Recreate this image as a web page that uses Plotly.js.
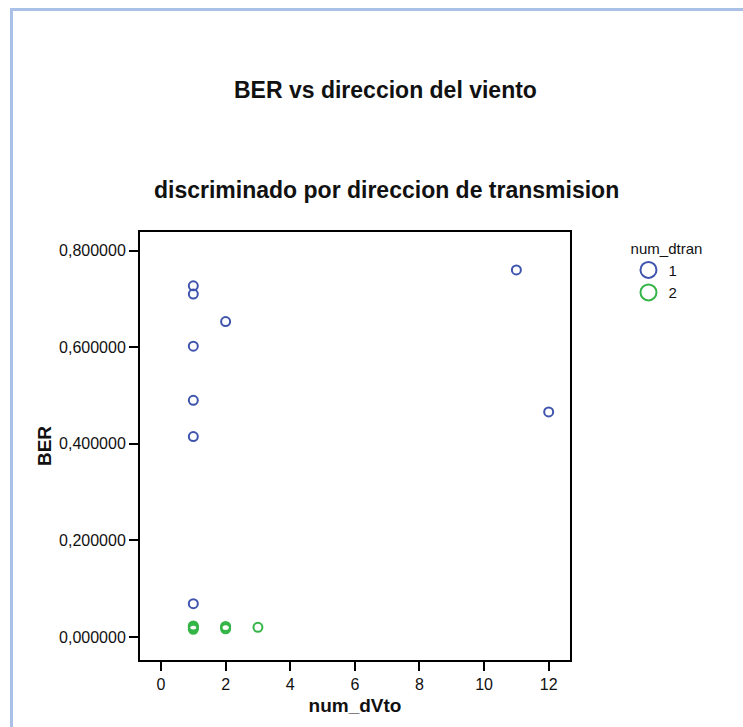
<!DOCTYPE html>
<html>
<head>
<meta charset="utf-8">
<script src="https://cdn.plot.ly/plotly-3.0.1.min.js"></script>
<style>
  body { margin: 0; padding: 0; background: #fff; }
  #wrap { position: relative; width: 743px; height: 727px; overflow: hidden; }
  #chart { position: absolute; left: 0; top: 0; width: 743px; height: 727px; }
  #frame { position: absolute; left: 10px; top: 8px; width: 900px; height: 900px;
           border-left: 3px solid #a9c1e6; border-top: 3px solid #a9c1e6; pointer-events: none; }
</style>
</head>
<body>
<div id="wrap">
  <div id="chart"></div>
  <div id="frame"></div>
</div>
<script>
// Series num_dtran = 1
const dtran1_x = [1, 1, 1, 1, 1, 1, 2, 11, 12];
const dtran1_y = [0.727, 0.710, 0.602, 0.490, 0.415, 0.069, 0.653, 0.760, 0.466];
// Series num_dtran = 2
const dtran2_x = [1, 1, 1, 1, 2, 2, 2, 3];
const dtran2_y = [0.016, 0.019, 0.021, 0.023, 0.017, 0.020, 0.022, 0.020];

const legendLabels = ['1', '2'];
const seriesColors = ['#3f55ad', '#35b548'];
const yTicks = [0, 0.2, 0.4, 0.6, 0.8];
const xTicks = [0, 2, 4, 6, 8, 10, 12];

const titleText = 'BER vs direccion del viento';
const subtitleText = 'discriminado por direccion de transmision';
const xTitle = 'num_dVto';
const yTitle = 'BER';
const legendTitle = 'num_dtran';

const FONT = 'Arial, "Liberation Sans", sans-serif';

function markerStyle(c, size) {
  return { symbol: 'circle-open', size: size, color: c, line: { color: c, width: 2 } };
}

const data = [
  { type: 'scatter', mode: 'markers', x: dtran1_x, y: dtran1_y, name: legendLabels[0],
    marker: markerStyle(seriesColors[0], 9), showlegend: false, hoverinfo: 'x+y' },
  { type: 'scatter', mode: 'markers', x: dtran2_x, y: dtran2_y, name: legendLabels[1],
    marker: markerStyle(seriesColors[1], 9), showlegend: false, hoverinfo: 'x+y' },
  // legend proxies (no data points)
  { type: 'scatter', mode: 'markers', x: [null], y: [null], name: legendLabels[0],
    marker: markerStyle(seriesColors[0], 16), showlegend: true },
  { type: 'scatter', mode: 'markers', x: [null], y: [null], name: legendLabels[1],
    marker: markerStyle(seriesColors[1], 16), showlegend: true }
];

const layout = {
  width: 743, height: 727,
  margin: { l: 140, r: 173, t: 232, b: 67, pad: 0 },
  paper_bgcolor: 'rgba(0,0,0,0)',
  plot_bgcolor: '#ffffff',
  separators: ',.',
  font: { family: FONT, size: 12, color: '#111' },
  showlegend: true,
  legend: {
    x: 1.136, xanchor: 'left', y: 0.995, yanchor: 'top',
    title: { text: legendTitle, side: 'top center', font: { size: 15, family: FONT, color: '#111' } },
    font: { size: 15, family: FONT, color: '#111' },
    bgcolor: 'rgba(0,0,0,0)', tracegroupgap: 0
  },
  xaxis: {
    range: [-0.65, 12.66], tickvals: xTicks, ticktext: xTicks.map(String),
    ticks: 'outside', ticklen: 9, tickwidth: 2, tickcolor: '#000',
    showline: true, linecolor: '#000', linewidth: 2, mirror: true,
    showgrid: false, zeroline: false,
    tickfont: { size: 16, family: FONT, color: '#111' },
    title: { text: '<b>' + xTitle + '</b>', font: { size: 19, family: FONT, color: '#111' }, standoff: 6 }
  },
  yaxis: {
    range: [-0.0476, 0.8385], tickvals: yTicks, tickformat: '.6f',
    ticks: 'outside', ticklen: 9, tickwidth: 2, tickcolor: '#000',
    showline: true, linecolor: '#000', linewidth: 2, mirror: true,
    showgrid: false, zeroline: false,
    tickfont: { size: 16, family: FONT, color: '#111' },
    title: { text: '<b>' + yTitle + '</b>', font: { size: 19, family: FONT, color: '#111' }, standoff: 2 }
  },
  annotations: [
    { text: '<b>' + titleText + '</b>', xref: 'paper', yref: 'paper', x: 0.572, y: 1.332,
      xanchor: 'center', yanchor: 'middle', showarrow: false,
      font: { size: 23, family: FONT, color: '#111' } },
    { text: '<b>' + subtitleText + '</b>', xref: 'paper', yref: 'paper', x: 0.574, y: 1.098,
      xanchor: 'center', yanchor: 'middle', showarrow: false,
      font: { size: 23, family: FONT, color: '#111' } }
  ]
};

Plotly.newPlot('chart', data, layout, { displayModeBar: false, staticPlot: true });
</script>
</body>
</html>
